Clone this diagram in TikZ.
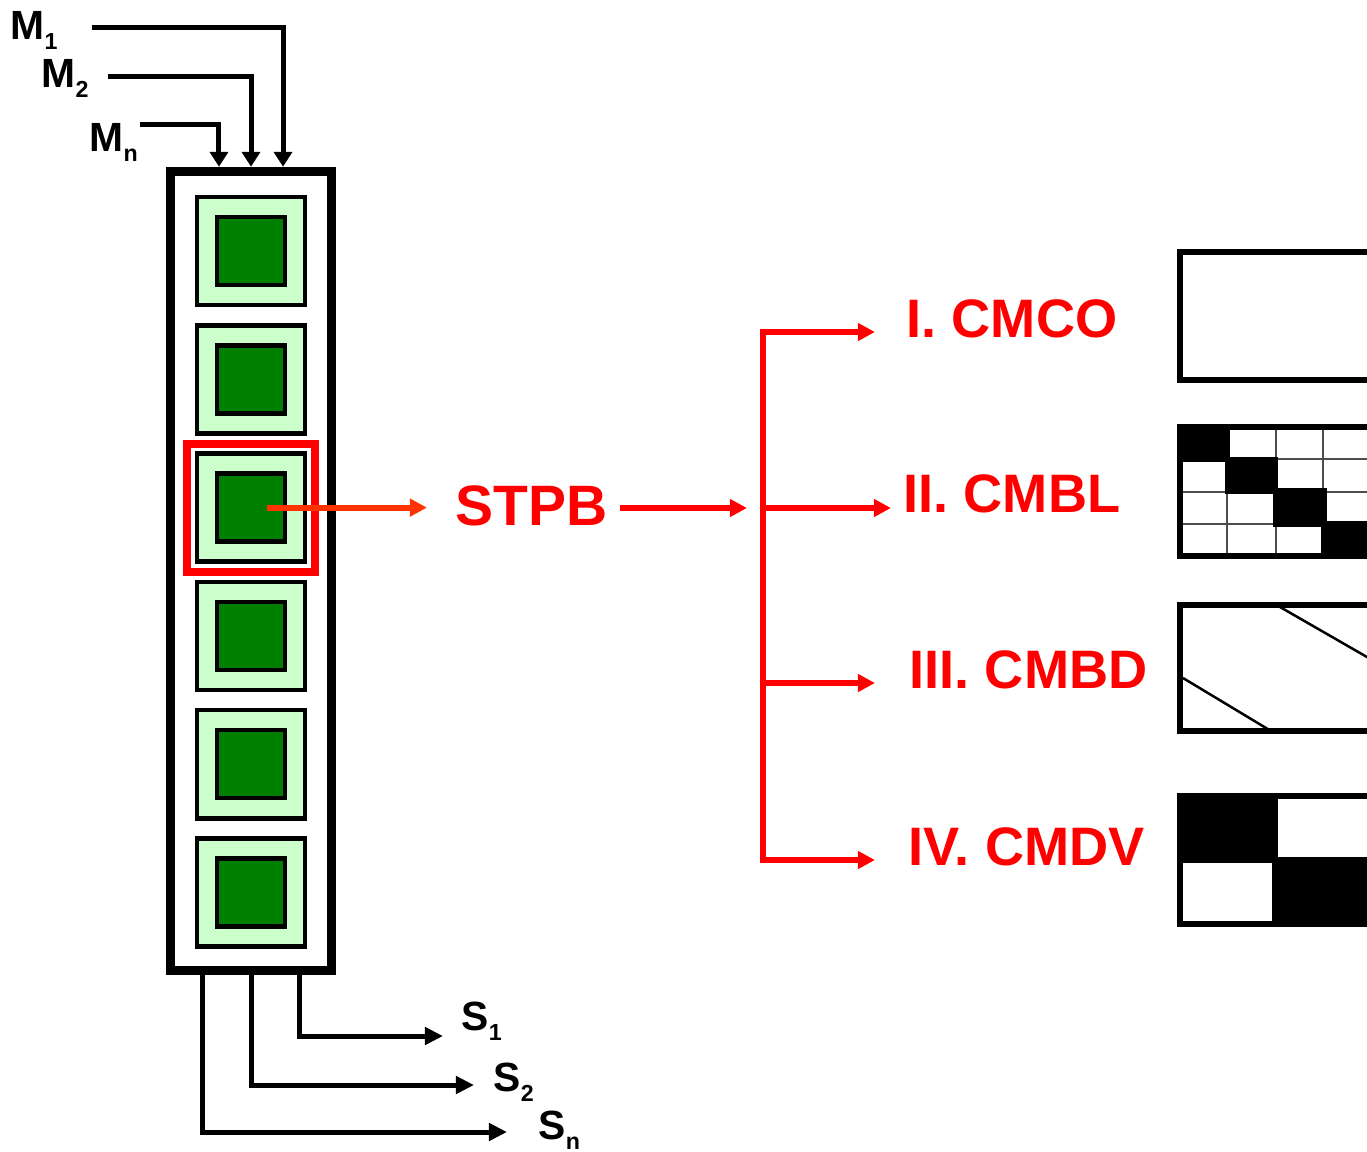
\documentclass[tikz,border=0pt]{standalone}
\usepackage{fontspec}
\setmainfont{Liberation Sans}
\usetikzlibrary{arrows.meta, positioning}

\definecolor{cellgreen}{HTML}{CCFFCC}
\definecolor{coregreen}{HTML}{008000}
\definecolor{hired}{HTML}{FF0000}
\definecolor{ptrred}{HTML}{FF3300}

\newcommand{\lblsub}[1]{\raisebox{-3.1pt}{\fontsize{6.6pt}{7pt}\selectfont #1}}

\begin{document}
\begin{tikzpicture}[
    x=0.01cm, y=-0.01cm,
    font=\bfseries,
    colbox/.style={draw, line width=0.09cm, minimum width=1.60cm, minimum height=7.99cm, inner sep=0pt},
    cellbox/.style={draw, line width=0.045cm, fill=cellgreen, minimum size=1.08cm, inner sep=0pt},
    corebox/.style={draw, line width=0.045cm, fill=coregreen, minimum size=0.68cm, inner sep=0pt},
    selbox/.style={draw=hired, line width=0.08cm, minimum size=1.28cm, inner sep=0pt},
    io_lbl/.style={anchor=base west, inner sep=0pt, font=\fontsize{11.6pt}{12pt}\selectfont\bfseries},
    method/.style={anchor=base west, inner sep=0pt, text=hired, font=\fontsize{15.4pt}{16pt}\selectfont\bfseries},
    inarr/.style={line width=0.05cm, -{Triangle[length=0.15cm, width=0.18cm]}},
    outarr/.style={line width=0.05cm, -{Triangle[length=0.18cm, width=0.17cm]}},
    redarr/.style={color=hired, line width=0.06cm, -{Triangle[length=0.17cm, width=0.17cm]}},
    frame/.style={line width=0.06cm},
    gridline/.style={line width=0.02cm, black!70}
]
\useasboundingbox (0,0) rectangle (1367,1151);

% COLUMN OF CELLS
\node[colbox] (col) at (251,571) {};
\foreach \i in {1,...,6} {
    \node[cellbox] (cell\i) at (251,{251+128.3*(\i-1)}) {};
    \node[corebox] (core\i) at (cell\i) {};
}
\node[selbox] (sel) at (cell3) {};

% INPUTS
\node[io_lbl] (m1) at (10,39) {M\lblsub{1}};
\node[io_lbl] (m2) at (41,87) {M\lblsub{2}};
\node[io_lbl] (mn) at (89,151) {M\lblsub{n}};
\coordinate (m1in) at (92,27);
\coordinate (m2in) at (108,76);
\coordinate (mnin) at (140,124);

\draw[inarr] (m1in) -| ([xshift=0.32cm]col.north);
\draw[inarr] (m2in) -| (col.north);
\draw[inarr] (mnin) -| ([xshift=-0.32cm]col.north);

% OUTPUTS
\coordinate (s1tip) at (443,1036);
\coordinate (s2tip) at (474,1085);
\coordinate (sntip) at (507,1132);
\node[io_lbl] (s1) at (461,1030) {S\lblsub{1}};
\node[io_lbl] (s2) at (493,1091) {S\lblsub{2}};
\node[io_lbl] (sn) at (538,1139) {S\lblsub{n}};

\draw[outarr] ([xshift=0.48cm]col.south) |- (s1tip);
\draw[outarr] (col.south) |- (s2tip);
\draw[outarr] ([xshift=-0.48cm]col.south) |- (sntip);

% STPB AND ITS FOUR METHODS
\node[anchor=base west, inner sep=0pt, text=hired, font=\fontsize{16.2pt}{17pt}\selectfont\bfseries] (stpb) at (455,525) {STPB};
\draw[redarr, color=ptrred, shorten <=0.16cm, shorten >=0.28cm] (core3.center) -- (core3 -| stpb.west);

\coordinate (j1) at (763,332);
\coordinate (j2) at (763,508);
\coordinate (j3) at (763,683);
\coordinate (j4) at (763,860);

\node[method] (cmco) at (906,337) {I. CMCO};
\node[method] (cmbl) at (903,512) {II. CMBL};
\node[method] (cmbd) at (909,688) {III. CMBD};
\node[method] (cmdv) at (908,865) {IV. CMDV};

\draw[redarr, shorten <=0.12cm, shorten >=0.16cm] (j2 -| stpb.east) -- (j2);
\draw[hired, line width=0.06cm, line cap=rect] (j1) -- (j4);
\draw[redarr, shorten >=0.31cm] (j1) -- (j1 -| cmco.west);
\draw[redarr, shorten >=0.12cm] (j2) -- (j2 -| cmbl.west);
\draw[redarr, shorten >=0.34cm] (j3) -- (j3 -| cmbd.west);
\draw[redarr, shorten >=0.33cm] (j4) -- (j4 -| cmdv.west);

% MATRIX PATTERNS
% I: plain
\draw[frame] (1180,252) rectangle (1400,380);
% II: diagonal blocks
\foreach \gx in {1227,1276,1323} \draw[gridline] (\gx,427) -- (\gx,556);
\foreach \gy in {459,492,524} \draw[gridline] (1180,\gy) -- (1400,\gy);
\fill (1177,424) rectangle (1230,462);
\fill (1225,457) rectangle (1278,494);
\fill (1273,488) rectangle (1327,527);
\fill (1321,521) rectangle (1400,559);
\draw[frame] (1180,427) rectangle (1400,556);
% III: band
\draw[frame] (1180,604.5) rectangle (1400,731);
\draw[line width=0.025cm] (1280,607) -- (1400,676);
\draw[line width=0.025cm] (1183,678) -- (1271,731);
% IV: two blocks
\fill (1177,793) rectangle (1278,863);
\fill (1272,857) rectangle (1400,927);
\draw[frame] (1180,795.5) rectangle (1400,924);

\end{tikzpicture}
\end{document}
